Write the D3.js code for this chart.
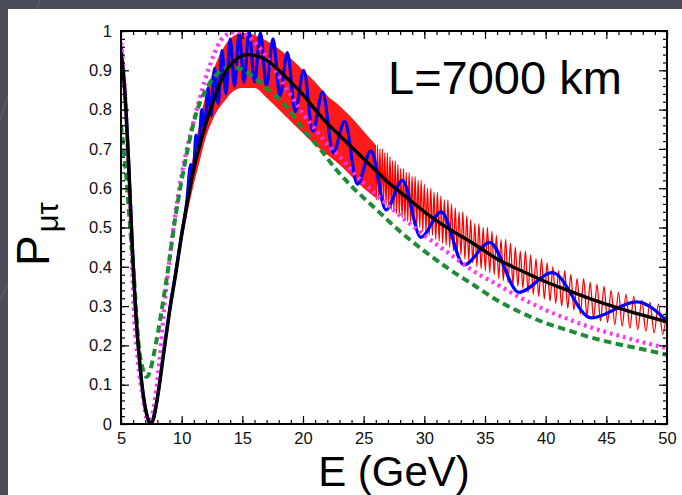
<!DOCTYPE html>
<html><head><meta charset="utf-8">
<script src="https://cdn.jsdelivr.net/npm/d3@7"></script>
<style>body{margin:0;background:#4a4d57;}svg{display:block}</style>
</head><body>
<svg id="c" width="682" height="495"></svg>
<script>
// ---------- data ----------
const xTicks = [5,10,15,20,25,30,35,40,45,50];
const yTicks = [0,0.1,0.2,0.3,0.4,0.5,0.6,0.7,0.8,0.9,1];
const titleText = "L=7000 km";

const blackPts = [[5,0.94],[5.3,0.85],[5.6,0.68],[5.9,0.47],[6.15,0.316],[6.5,0.17],[6.9,0.06],[7.2,0.015],[7.45,0],[7.7,0.015],[8,0.065],[8.5,0.175],[9,0.285],[9.5,0.38],[10,0.48],[10.5,0.57],[11,0.65],[11.5,0.71],[12,0.765],[12.5,0.81],[13,0.855],[13.5,0.89],[14,0.913],[14.5,0.928],[15,0.937],[15.5,0.94],[16,0.938],[17,0.926],[18,0.9],[19,0.87],[20,0.838],[21,0.80],[22,0.765],[23,0.735],[24,0.705],[25,0.675],[26,0.645],[27,0.615],[28,0.59],[29,0.565],[30,0.54],[32,0.497],[34,0.46],[36,0.42],[38,0.39],[40,0.362],[42,0.338],[44,0.315],[46,0.295],[48,0.277],[50,0.26]];

const bluePts = [[5,0.96],[5.3,0.86],[5.6,0.69],[5.9,0.48],[6.15,0.32],[6.5,0.17],[6.9,0.06],[7.2,0.015],[7.42,0],[7.7,0.02],[8,0.07],[8.5,0.18],[9,0.29],[9.5,0.385],[10,0.485],[10.4,0.56],[10.75,0.66],[10.96,0.64],[11.18,0.735],[11.41,0.70],[11.65,0.80],[11.9,0.75],[12.16,0.855],[12.43,0.785],[12.71,0.905],[13.01,0.815],[13.32,0.95],[13.65,0.84],[14.0,0.98],[14.36,0.86],[14.74,0.995],[15.14,0.87],[15.56,1.0],[16.01,0.87],[16.49,0.995],[16.99,0.86],[17.53,0.98],[18.1,0.835],[18.71,0.945],[19.36,0.795],[20.06,0.9],[20.81,0.745],[21.62,0.845],[22.49,0.69],[23.44,0.77],[24.48,0.61],[25.6,0.695],[26.84,0.545],[28.2,0.62],[29.71,0.475],[31.39,0.54],[33.27,0.405],[35.39,0.462],[37.8,0.335],[40.55,0.385],[43.75,0.27],[47.49,0.311],[50,0.262]];

const magentaPts = [[5,0.97],[5.3,0.86],[5.6,0.66],[5.85,0.47],[6.0,0.33],[6.4,0.16],[6.84,0.06],[7.1,0.015],[7.33,0],[7.6,0.025],[8,0.11],[8.63,0.316],[9,0.42],[9.5,0.54],[10,0.635],[10.7,0.735],[11.5,0.83],[12.3,0.91],[13.2,0.975],[14,0.995],[14.5,0.998],[15,0.995],[15.5,0.985],[16.5,0.955],[17.3,0.92],[18.5,0.86],[20,0.79],[21,0.75],[22.2,0.705],[23.05,0.68],[24,0.645],[26,0.585],[28,0.53],[30,0.48],[32,0.435],[34,0.39],[36,0.355],[38,0.32],[40,0.29],[42,0.265],[44,0.243],[46,0.225],[48,0.208],[50,0.193]];

const greenPts = [[5,0.76],[5.4,0.64],[5.8,0.48],[6.1,0.36],[6.43,0.21],[6.8,0.14],[7.1,0.12],[7.4,0.135],[7.66,0.17],[8,0.225],[8.49,0.316],[9,0.42],[9.5,0.53],[10,0.62],[10.5,0.70],[11.1,0.78],[12.07,0.855],[13,0.893],[14,0.908],[15,0.902],[15.9,0.884],[17,0.855],[18.66,0.807],[20,0.75],[21.4,0.70],[22.8,0.645],[24,0.605],[25.8,0.553],[28,0.49],[30,0.44],[32,0.395],[34,0.355],[36,0.315],[38,0.283],[40,0.257],[42,0.237],[44,0.218],[46,0.203],[48,0.19],[50,0.176]];

// red: dense region drawn as a band (upper / lower envelope)
const redBandE  = [9.5,10,10.5,11,11.5,12,12.5,13,13.5,14,15,16,17,18,19,20,21,22,23,24,25,26];
const redBandHi = [0.40,0.50,0.60,0.69,0.77,0.84,0.89,0.93,0.96,0.98,0.995,0.99,0.975,0.955,0.93,0.90,0.87,0.835,0.81,0.78,0.745,0.71];
const redBandLo = [0.36,0.46,0.54,0.61,0.67,0.73,0.77,0.80,0.82,0.84,0.855,0.855,0.83,0.80,0.77,0.74,0.71,0.685,0.66,0.63,0.60,0.575];

// red: resolved oscillations, peaks and troughs in order
const redZig = [[25.94,0.71],[26.04,0.57],[26.14,0.71],[26.24,0.57],[26.34,0.70],[26.44,0.565],[26.54,0.70],[26.64,0.56],[26.74,0.69],[26.85,0.555],[26.95,0.69],[27.06,0.55],[27.17,0.68],[27.28,0.545],[27.38,0.67],[27.49,0.54],[27.60,0.67],[27.71,0.535],[27.82,0.66],[27.94,0.53],[28.05,0.65],[28.17,0.525],[28.28,0.65],[28.40,0.52],[28.51,0.64],[28.63,0.515],[28.75,0.64],[28.87,0.51],[28.99,0.63],[29.12,0.51],[29.24,0.63],[29.37,0.50],[29.49,0.62],[29.62,0.50],[29.74,0.62],[29.87,0.49],[30.00,0.61],[30.13,0.49],[30.26,0.60],[30.40,0.48],[30.53,0.60],[30.67,0.48],[30.80,0.59],[30.94,0.47],[31.08,0.59],[31.22,0.465],[31.36,0.58],[31.51,0.46],[31.65,0.57],[31.80,0.455],[31.94,0.57],[32.09,0.45],[32.24,0.56],[32.40,0.44],[32.55,0.55],[32.71,0.435],[32.86,0.54],[33.02,0.43],[33.17,0.54],[33.34,0.42],[33.50,0.53],[33.66,0.415],[33.82,0.52],[33.99,0.41],[34.16,0.51],[34.33,0.40],[34.50,0.51],[34.68,0.395],[34.85,0.50],[35.03,0.39],[35.20,0.50],[35.39,0.385],[35.57,0.49],[35.76,0.38],[35.94,0.48],[36.13,0.37],[36.32,0.47],[36.51,0.365],[36.70,0.47],[36.90,0.36],[37.10,0.46],[37.30,0.355],[37.50,0.45],[37.71,0.35],[37.91,0.44],[38.12,0.345],[38.33,0.44],[38.55,0.335],[38.76,0.43],[38.98,0.33],[39.20,0.42],[39.43,0.325],[39.66,0.42],[39.89,0.318],[40.12,0.41],[40.36,0.313],[40.59,0.40],[40.83,0.307],[41.07,0.39],[41.32,0.30],[41.57,0.39],[41.82,0.295],[42.07,0.38],[42.33,0.29],[42.59,0.37],[42.86,0.28],[43.13,0.37],[43.40,0.275],[43.67,0.36],[43.95,0.268],[44.23,0.355],[44.52,0.262],[44.81,0.35],[45.10,0.258],[45.39,0.34],[45.70,0.253],[46.00,0.335],[46.31,0.249],[46.62,0.33],[46.94,0.244],[47.26,0.325],[47.59,0.24],[47.92,0.315],[48.26,0.236],[48.59,0.31],[48.94,0.232],[49.29,0.305],[49.65,0.228],[50.00,0.30]];

// ---------- drawing ----------
const W = 682, H = 495;
const svg = d3.select("#c");
const FONT = "'Liberation Sans', Arial, Helvetica, sans-serif";

// page background
svg.append("rect").attr("width", W).attr("height", H).attr("fill", "#4a4d57");
svg.append("path").attr("d", "M0,120 L40,0").attr("stroke", "#575a64").attr("stroke-width", 2).attr("fill", "none");
svg.append("path").attr("d", "M0,300 L8,285").attr("stroke", "#575a64").attr("stroke-width", 2).attr("fill", "none");
svg.append("rect").attr("x", 8).attr("y", 9).attr("width", W - 8).attr("height", H - 9).attr("fill", "#ffffff");

const x = d3.scaleLinear().domain([5, 50]).range([121, 667]);
const y = d3.scaleLinear().domain([0, 1]).range([424, 31]);

svg.append("clipPath").attr("id", "clip").append("rect")
  .attr("x", 121).attr("y", 31).attr("width", 546).attr("height", 393);
const plot = svg.append("g").attr("clip-path", "url(#clip)");

const line = d3.line().x(d => x(d[0])).y(d => y(d[1])).curve(d3.curveMonotoneX);

// red band
const band = redBandE.map((e, i) => [e, redBandHi[i], redBandLo[i]]);
plot.append("path").datum(band)
  .attr("d", d3.area().x(d => x(d[0])).y0(d => y(d[2])).y1(d => y(d[1])).curve(d3.curveMonotoneX))
  .attr("fill", "#ff1a1a");
// red oscillation
plot.append("path").datum(redZig).attr("d", line)
  .attr("fill", "none").attr("stroke", "#ff0000").attr("stroke-width", 1.3);

// blue
plot.append("path").datum(bluePts).attr("d", line)
  .attr("fill", "none").attr("stroke", "#0000ff").attr("stroke-width", 3.2);
// magenta dotted
plot.append("path").datum(magentaPts).attr("d", line)
  .attr("fill", "none").attr("stroke", "#ff33ff").attr("stroke-width", 4.2)
  .attr("stroke-dasharray", "2.8,4");
// green dashed
plot.append("path").datum(greenPts).attr("d", line)
  .attr("fill", "none").attr("stroke", "#1e8c35").attr("stroke-width", 4)
  .attr("stroke-dasharray", "7.5,4.5");
// black
plot.append("path").datum(blackPts).attr("d", line)
  .attr("fill", "none").attr("stroke", "#000000").attr("stroke-width", 3.4);

// axes (inward ticks on all four sides)
const xMinor = d3.range(5, 51, 1);
const yMinor = d3.range(0, 51).map(i => i * 0.02);
const noDomain = g => g.select(".domain").remove();
const fmtY = d => d === 0 ? "0" : d === 1 ? "1" : d.toFixed(1);

function styleAxis(g, size) {
  g.selectAll("line").attr("stroke", "#000").attr("stroke-width", 1.2);
  g.selectAll("text").attr("font-family", FONT).attr("font-size", size).attr("fill", "#111");
}

svg.append("g").attr("transform", `translate(0,${y(0)})`)
  .call(d3.axisBottom(x).tickValues(xMinor).tickSize(-4).tickFormat("")).call(noDomain).call(g => styleAxis(g, 16));
svg.append("g").attr("transform", `translate(0,${y(0)})`)
  .call(d3.axisBottom(x).tickValues(xTicks).tickSize(-8).tickPadding(8).tickFormat(d3.format("d")))
  .call(noDomain).call(g => styleAxis(g, 16.5));
svg.append("g").attr("transform", `translate(0,${y(1)})`)
  .call(d3.axisTop(x).tickValues(xMinor).tickSize(-4).tickFormat("")).call(noDomain).call(g => styleAxis(g, 16));
svg.append("g").attr("transform", `translate(0,${y(1)})`)
  .call(d3.axisTop(x).tickValues(xTicks).tickSize(-8).tickFormat("")).call(noDomain).call(g => styleAxis(g, 16));

svg.append("g").attr("transform", `translate(${x(5)},0)`)
  .call(d3.axisLeft(y).tickValues(yMinor).tickSize(-4).tickFormat("")).call(noDomain).call(g => styleAxis(g, 16));
svg.append("g").attr("transform", `translate(${x(5)},0)`)
  .call(d3.axisLeft(y).tickValues(yTicks).tickSize(-8).tickPadding(9).tickFormat(fmtY))
  .call(noDomain).call(g => styleAxis(g, 16.5));
svg.append("g").attr("transform", `translate(${x(50)},0)`)
  .call(d3.axisRight(y).tickValues(yMinor).tickSize(-4).tickFormat("")).call(noDomain).call(g => styleAxis(g, 16));
svg.append("g").attr("transform", `translate(${x(50)},0)`)
  .call(d3.axisRight(y).tickValues(yTicks).tickSize(-8).tickFormat("")).call(noDomain).call(g => styleAxis(g, 16));

// frame
svg.append("rect").attr("x", x(5)).attr("y", y(1)).attr("width", x(50) - x(5)).attr("height", y(0) - y(1))
  .attr("fill", "none").attr("stroke", "#000").attr("stroke-width", 2);

// texts
svg.append("text").attr("x", 388).attr("y", 94).attr("font-family", FONT).attr("font-size", 47)
  .attr("fill", "#000").text(titleText);

svg.append("text").attr("x", (x(5) + x(50)) / 2).attr("y", 486).attr("text-anchor", "middle")
  .attr("font-family", FONT).attr("font-size", 42).attr("fill", "#000").text("E (GeV)");

const yl = svg.append("text").attr("transform", "translate(49,266) rotate(-90)")
  .attr("font-family", FONT).attr("fill", "#000");
yl.append("tspan").attr("font-size", 46).text("P");
yl.append("tspan").attr("font-size", 31).attr("dx", 3).attr("dy", 9).text("μτ");
</script>
</body></html>
